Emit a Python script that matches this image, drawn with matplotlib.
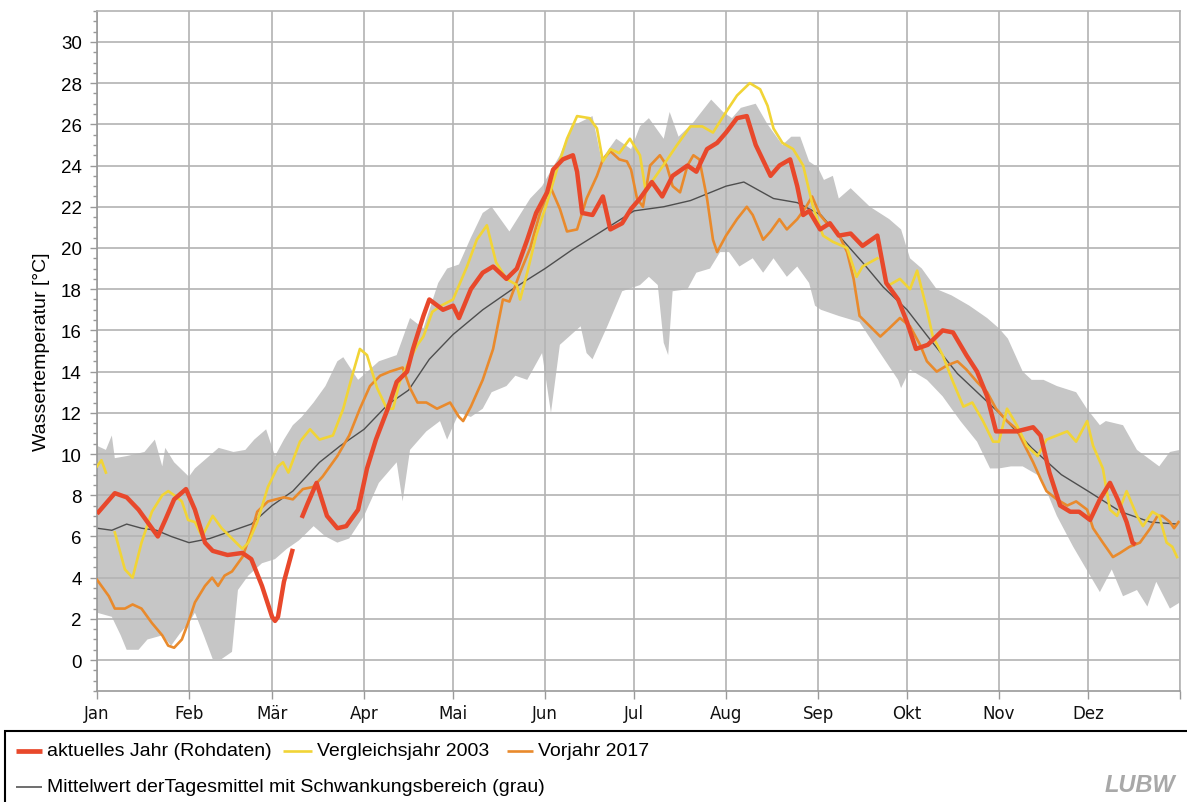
import numpy as np
import matplotlib
matplotlib.use("Agg")
import matplotlib.pyplot as plt
from matplotlib.lines import Line2D
from matplotlib.patches import Rectangle

plt.rcParams['font.family'] = ['Liberation Sans', 'DejaVu Sans']

# ---------------- data (day of year, value in °C) ----------------
month_labels = ["Jan", "Feb", "Mär", "Apr", "Mai", "Jun", "Jul", "Aug", "Sep", "Okt", "Nov", "Dez"]
month_starts = [0, 31, 59, 90, 120, 151, 181, 212, 243, 273, 304, 334]

band_up_days = [0, 3, 5, 6, 10, 16, 19.5, 22, 23, 26, 31, 33, 37, 41, 46, 50, 53, 57, 60, 63, 66, 69, 73, 77,
                81, 83, 88, 95, 101, 105.5, 110, 115, 118, 122, 126, 130, 133, 139, 146, 150, 156, 160, 167,
                170, 175, 180, 183, 186, 191, 193, 196, 201, 207, 211, 214, 217, 222, 226, 231, 234, 237, 240,
                243, 245, 248, 250, 254, 260.5, 267, 271, 274, 278, 283, 288, 294, 300, 304, 307, 312, 315,
                319, 323.5, 330, 333.6, 338, 340, 345.8, 350.5, 358, 361.6, 365]
band_up_vals = [10.4, 10.2, 10.9, 9.8, 9.9, 10.1, 10.7, 9.4, 10.3, 9.6, 8.9, 9.3, 9.8, 10.3, 10.1, 10.2, 10.7,
                11.2, 9.9, 10.7, 11.4, 11.8, 12.5, 13.3, 14.5, 14.7, 13.6, 14.5, 14.8, 16.6, 16.1, 18.3, 19.0,
                19.2, 20.5, 21.7, 22.0, 20.8, 22.4, 23.0, 24.5, 25.9, 26.4, 24.3, 25.3, 24.8, 25.9, 26.3, 25.3,
                26.6, 25.4, 26.1, 27.2, 26.6, 26.3, 26.8, 27.0, 26.0, 25.0, 25.4, 25.4, 24.2, 23.9, 23.3, 23.5,
                22.4, 22.9, 22.0, 21.4, 20.9, 19.5, 19.0, 18.0, 17.7, 17.2, 16.6, 16.1, 15.6, 14.0, 13.6, 13.6,
                13.3, 13.0, 12.2, 11.4, 11.6, 11.4, 10.2, 9.4, 10.1, 10.2]

band_low_days = [0, 5, 8, 10, 14, 17, 22, 25, 28, 31, 33, 36, 39, 42, 45.5, 47.5, 51, 55.6, 60, 64, 68, 73, 77,
                 81, 85, 90, 95, 101, 103, 105.5, 111, 115.6, 118, 122, 126, 130, 133, 138, 141, 145, 150, 153,
                 156, 163, 165, 167, 172, 177, 183, 186, 189, 191, 192.5, 194, 199, 202, 206.6, 210, 213, 216.5,
                 221, 224.5, 228, 232.5, 236, 240, 242, 244, 250, 257, 263, 270, 271, 274, 279.7, 285, 291,
                 296.6, 301, 304, 308, 312, 318, 323.5, 329, 334.7, 338, 342, 345.8, 350.5, 354, 357, 361.6, 365]
band_low_vals = [2.3, 2.1, 1.2, 0.5, 0.5, 1.0, 1.2, 0.7, 1.3, 1.8, 2.3, 1.2, 0.05, 0.05, 0.4, 3.4, 4.1, 4.7,
                 4.9, 5.4, 5.8, 6.5, 6.0, 5.7, 5.9, 7.0, 8.6, 9.6, 7.7, 10.2, 11.1, 11.6, 10.7, 12.0, 11.8, 12.2,
                 13.0, 13.3, 13.8, 13.6, 14.9, 12.0, 15.3, 16.2, 14.9, 14.6, 16.2, 17.9, 18.2, 18.6, 18.2, 15.4,
                 14.8, 17.9, 18.0, 18.8, 19.0, 19.8, 19.8, 19.1, 19.5, 18.8, 19.5, 18.6, 19.1, 18.3, 17.2, 17.0,
                 16.7, 16.4, 15.1, 13.6, 13.2, 14.1, 13.6, 12.8, 11.6, 10.6, 9.3, 9.3, 9.4, 9.4, 8.9, 7.0, 5.5,
                 4.1, 3.3, 4.4, 3.1, 3.4, 2.6, 3.8, 2.5, 2.8]

mean_days = [0, 5, 10, 15, 20, 25, 31, 38, 46, 52, 59, 66, 75, 82, 90, 98, 105, 112, 120, 130, 140, 151, 160,
             170, 181, 191, 200, 212, 218, 228, 236, 244, 250, 258, 265, 273, 280, 290, 304, 315, 325, 334, 345,
             355, 364]
mean_vals = [6.4, 6.3, 6.6, 6.4, 6.3, 6.0, 5.7, 5.9, 6.3, 6.6, 7.5, 8.2, 9.6, 10.4, 11.2, 12.4, 13.1, 14.6,
             15.8, 17.0, 18.0, 19.0, 19.9, 20.8, 21.8, 22.0, 22.3, 23.0, 23.2, 22.4, 22.2, 21.6, 20.6, 19.3,
             18.1, 17.0, 15.7, 13.9, 12.0, 10.3, 9.0, 8.2, 7.2, 6.7, 6.6]

y2003_days = [0, 1.5, 3, 4, 6, 9.4, 12, 15, 18.5, 22, 24, 26, 28.6, 30.7, 33, 35.4, 39, 42, 45.5, 49, 51, 54,
              57.6, 61, 62.7, 64.5, 68.4, 71.8, 75, 79.5, 83, 86, 88.6, 91, 94.4, 97.7, 99.8, 102, 105.5, 108,
              110, 113, 116, 120, 124.7, 128, 131.4, 134.5, 138, 141.5, 142.6, 145, 148, 151.7, 155, 158.4,
              161.8, 166, 168.5, 170.5, 173, 176, 179.6, 183, 185, 187.4, 190.8, 195.5, 200, 204, 207.6, 212,
              215.7, 220, 223.5, 226, 228, 231, 234.6, 238, 241.3, 244.7, 248, 252.8, 256, 258, 263, 265, 267,
              270.6, 274, 276.4, 279.7, 281.7, 285, 288.5, 292, 295, 298.6, 302, 304, 306.7, 310, 313.4, 317,
              320, 323.5, 327, 330, 333.7, 335.7, 339, 341.4, 343.8, 347, 350.5, 352.5, 355.7, 358, 360.5,
              362.4, 364]
y2003_vals = [9.4, 9.7, 9.1, np.nan, 6.2, 4.4, 4.0, 5.7, 7.2, 8.0, 8.2, 8.0, 7.7, 6.8, 6.7, 6.0, 7.0, 6.4, 5.9,
              5.4, 5.7, 6.7, 8.4, 9.4, 9.6, 9.1, 10.6, 11.2, 10.7, 10.9, 12.2, 13.8, 15.1, 14.8, 13.2, 12.2,
              12.2, 13.5, 14.6, 15.3, 15.7, 16.9, 17.2, 17.5, 19.1, 20.4, 21.1, 19.3, 18.5, 18.2, 17.5, 18.8,
              20.6, 22.2, 23.8, 25.3, 26.4, 26.3, 25.8, 24.2, 24.8, 24.6, 25.3, 24.5, 22.7, 23.3, 24.0, 25.0,
              25.9, 25.9, 25.6, 26.6, 27.4, 28.0, 27.7, 26.9, 25.8, 25.1, 24.8, 24.0, 22.0, 20.6, 20.3, 20.0,
              18.6, 19.1, 19.5, np.nan, 18.2, 18.5, 18.0, 18.9, 17.0, 15.7, 14.8, 13.5, 12.3, 12.5, 11.6, 10.6,
              10.6, 12.2, 11.4, 10.4, 9.9, 10.7, 10.9, 11.1, 10.6, 11.6, 10.4, 9.3, 7.3, 7.0, 8.2, 7.0, 6.5,
              7.2, 7.0, 5.7, 5.5, 5.0]

y2017_days = [0, 4, 6, 9.4, 12, 15, 18.5, 22, 24, 26, 28.6, 30.7, 33, 36.4, 38.8, 40.8, 43, 45.5, 49, 52, 54,
              57.6, 63, 66, 69.4, 72.8, 76, 81, 85, 88.6, 92, 95.4, 98.7, 103, 105.5, 108, 111, 114.6, 119,
              122, 123.4, 126, 130, 133.5, 136.8, 139, 142.6, 146, 149.3, 152.7, 156, 158.4, 161.8, 165, 168.5,
              170.5, 173, 176, 178.6, 180, 182, 184, 186.4, 189.7, 192, 194, 196.5, 199, 201, 203, 205.6,
              207.6, 209, 212, 215.7, 219, 221, 224.5, 227, 230, 232.5, 236, 239, 241, 243.7, 246, 249.5,
              252.8, 255, 257, 260.5, 264, 267, 270.6, 274, 277.4, 279.7, 283, 286.5, 290, 293, 296.6, 300,
              303, 306.7, 310, 312, 315.5, 318, 320, 323.5, 327, 330, 333.7, 335.7, 339, 342.4, 344.8, 348,
              351.5, 355, 357.4, 359, 361.6, 363, 364.5]
y2017_vals = [3.9, 3.1, 2.5, 2.5, 2.7, 2.5, 1.8, 1.2, 0.7, 0.6, 1.0, 1.8, 2.8, 3.6, 4.0, 3.6, 4.1, 4.3, 5.0,
              6.2, 7.2, 7.7, 7.9, 7.8, 8.3, 8.4, 8.9, 9.9, 10.9, 12.2, 13.3, 13.8, 14.0, 14.2, 13.2, 12.5,
              12.5, 12.2, 12.5, 11.8, 11.6, 12.3, 13.6, 15.1, 17.5, 17.4, 18.8, 20.0, 21.7, 23.0, 21.9, 20.8,
              20.9, 22.4, 23.5, 24.3, 24.7, 24.3, 24.2, 23.8, 22.4, 22.0, 24.0, 24.5, 24.0, 23.0, 22.7, 24.0,
              24.5, 24.3, 22.4, 20.4, 19.8, 20.6, 21.4, 22.0, 21.6, 20.4, 20.8, 21.4, 20.9, 21.4, 22.0, 22.5,
              21.6, 21.2, 20.8, 19.8, 18.5, 16.7, 16.2, 15.7, 16.1, 16.6, 16.2, 15.3, 14.5, 14.0, 14.3, 14.5,
              14.1, 13.5, 13.0, 12.2, 11.6, 11.2, 10.6, 9.6, 8.8, 8.2, 7.8, 7.5, 7.7, 7.3, 6.4, 5.7, 5.0, 5.2,
              5.5, 5.7, 6.4, 7.0, 7.0, 6.7, 6.4, 6.7]

current_days = [0, 3, 6, 10, 14, 17, 20.5, 23, 26, 30, 33, 36.4, 39, 44, 49, 52, 55.6, 59, 60, 61, 63, 66,
                67.5, 69, 71, 74, 77.5, 81, 84, 88, 91, 94, 98, 101, 104.5, 106.5, 110, 112, 116.6, 120, 122,
                126, 130, 133.5, 138, 141.5, 145, 148, 151.7, 153.7, 157, 160.4, 161.8, 163.5, 167, 170.5, 173,
                177, 180, 183, 187, 190.5, 194, 199, 202, 205.6, 209, 212, 215.7, 219, 222, 227, 230, 233.6,
                236, 238, 240, 243.7, 247, 250, 254, 258, 263, 266, 270, 273, 276, 280, 285, 288.5, 293, 296.6,
                300, 303, 306, 310, 315.5, 318, 321, 324.6, 328, 331, 334.7, 338, 341.4, 344, 347, 349, 350]
current_vals = [7.1, 7.6, 8.1, 7.9, 7.3, 6.7, 6.0, 6.8, 7.8, 8.3, 7.3, 5.7, 5.3, 5.1, 5.2, 4.9, 3.6, 2.1, 1.9,
                2.1, 3.8, 5.4, np.nan, 6.9, 7.6, 8.6, 7.0, 6.4, 6.5, 7.3, 9.3, 10.7, 12.2, 13.5, 14.0, 15.1,
                16.7, 17.5, 17.0, 17.2, 16.6, 18.0, 18.8, 19.1, 18.5, 19.0, 20.4, 21.7, 22.7, 23.8, 24.3, 24.5,
                23.7, 21.7, 21.6, 22.5, 20.9, 21.2, 21.9, 22.4, 23.2, 22.5, 23.5, 24.0, 23.7, 24.8, 25.1, 25.6,
                26.3, 26.4, 25.0, 23.5, 24.0, 24.3, 23.0, 21.6, 21.8, 20.9, 21.2, 20.6, 20.7, 20.1, 20.6, 18.3,
                17.5, 16.4, 15.1, 15.3, 16.0, 15.9, 14.8, 14.0, 12.8, 11.1, 11.1, 11.1, 11.3, 10.9, 9.1, 7.5,
                7.2, 7.2, 6.8, 7.8, 8.6, 7.8, 6.7, 5.7, 5.6]

legend_labels = ["aktuelles Jahr (Rohdaten)", "Vergleichsjahr 2003", "Vorjahr 2017",
                 "Mittelwert derTagesmittel mit Schwankungsbereich (grau)"]
y_label = "Wassertemperatur [°C]"

# ---------------- styles ----------------
C_RED = "#e8482b"
C_YEL = "#f1d436"
C_ORA = "#e98a2c"
C_BAND = "#c6c6c6"
C_MEAN = "#4e4e4e"
C_GRID = "#b3b3b3"

W, H = 1187, 803
fig = plt.figure(figsize=(W / 100, H / 100), dpi=100)
ax = fig.add_axes([97 / W, 1 - 692 / H, (1180 - 97) / W, (692 - 12) / H])

# band
bx = np.concatenate([band_up_days, band_low_days[::-1]])
by = np.concatenate([band_up_vals, band_low_vals[::-1]])
ax.fill(bx, by, color=C_BAND, lw=0, zorder=0.2)

ax.plot(mean_days, mean_vals, color=C_MEAN, lw=1.0, zorder=2)
ax.plot(y2017_days, y2017_vals, color=C_ORA, lw=1.9, zorder=3)
ax.plot(y2003_days, y2003_vals, color=C_YEL, lw=1.9, zorder=4)
ax.plot(current_days, current_vals, color=C_RED, lw=3.2, zorder=5, solid_capstyle='butt')

ax.set_xlim(0, 365)
ax.set_ylim(-1.5, 31.5)
ax.set_xticks(month_starts + [365])
ax.set_xticklabels([])
ax.set_yticks(np.arange(0, 31, 2))
ax.set_yticks(np.arange(-1.5, 31.6, 0.5), minor=True)
ax.set_yticklabels([str(v) for v in range(0, 31, 2)], fontsize=13.5)
ax.tick_params(axis='y', which='major', length=5, width=1, color='#999999', pad=6)
ax.tick_params(axis='y', which='minor', length=3, width=1, color='#999999')
ax.tick_params(axis='x', which='major', length=6, width=1, color='#999999')
for d, lab in zip(month_starts, month_labels):
    ax.text(d, -0.019, lab, transform=ax.get_xaxis_transform(), ha='center', va='top',
            fontsize=12, family='DejaVu Sans', color='#111111')

ax.set_axisbelow(True)
ax.grid(True, which='major', color=C_GRID, lw=1.2)
for s in ax.spines.values():
    s.set_color(C_GRID)
    s.set_linewidth(1.2)
ax.spines['left'].set_color('#999999')
ax.spines['bottom'].set_color('#999999')

fig.text(42 / W, 1 - 352 / H, y_label, rotation=90, ha='center', va='center', fontsize=14)

# legend box
fig.patches.append(Rectangle((5 / W, -0.05), 1.2, 0.05 + 1 - 732 / H, transform=fig.transFigure,
                             fill=False, ec='black', lw=1.5))

def leg_item(x0, x1, xt, yp, color, lw, text):
    fy = 1 - yp / H
    fig.lines.append(Line2D([x0 / W, x1 / W], [fy, fy], transform=fig.transFigure, color=color, lw=lw,
                            solid_capstyle='butt'))
    fig.text(xt / W, fy, text, ha='left', va='center', fontsize=14)

leg_item(16, 42, 47, 752, C_RED, 3.4, legend_labels[0])
leg_item(283, 312, 317, 752, C_YEL, 1.9, legend_labels[1])
leg_item(507, 533, 538, 752, C_ORA, 1.9, legend_labels[2])
leg_item(16, 42, 47, 788, "#555555", 1.2, legend_labels[3])

fig.text(1140 / W, 1 - 786 / H, "LUBW", ha='center', va='center', fontsize=17, fontweight='bold',
         fontstyle='italic', color='#a8a8a8')

fig.savefig("out.png", dpi=100)
